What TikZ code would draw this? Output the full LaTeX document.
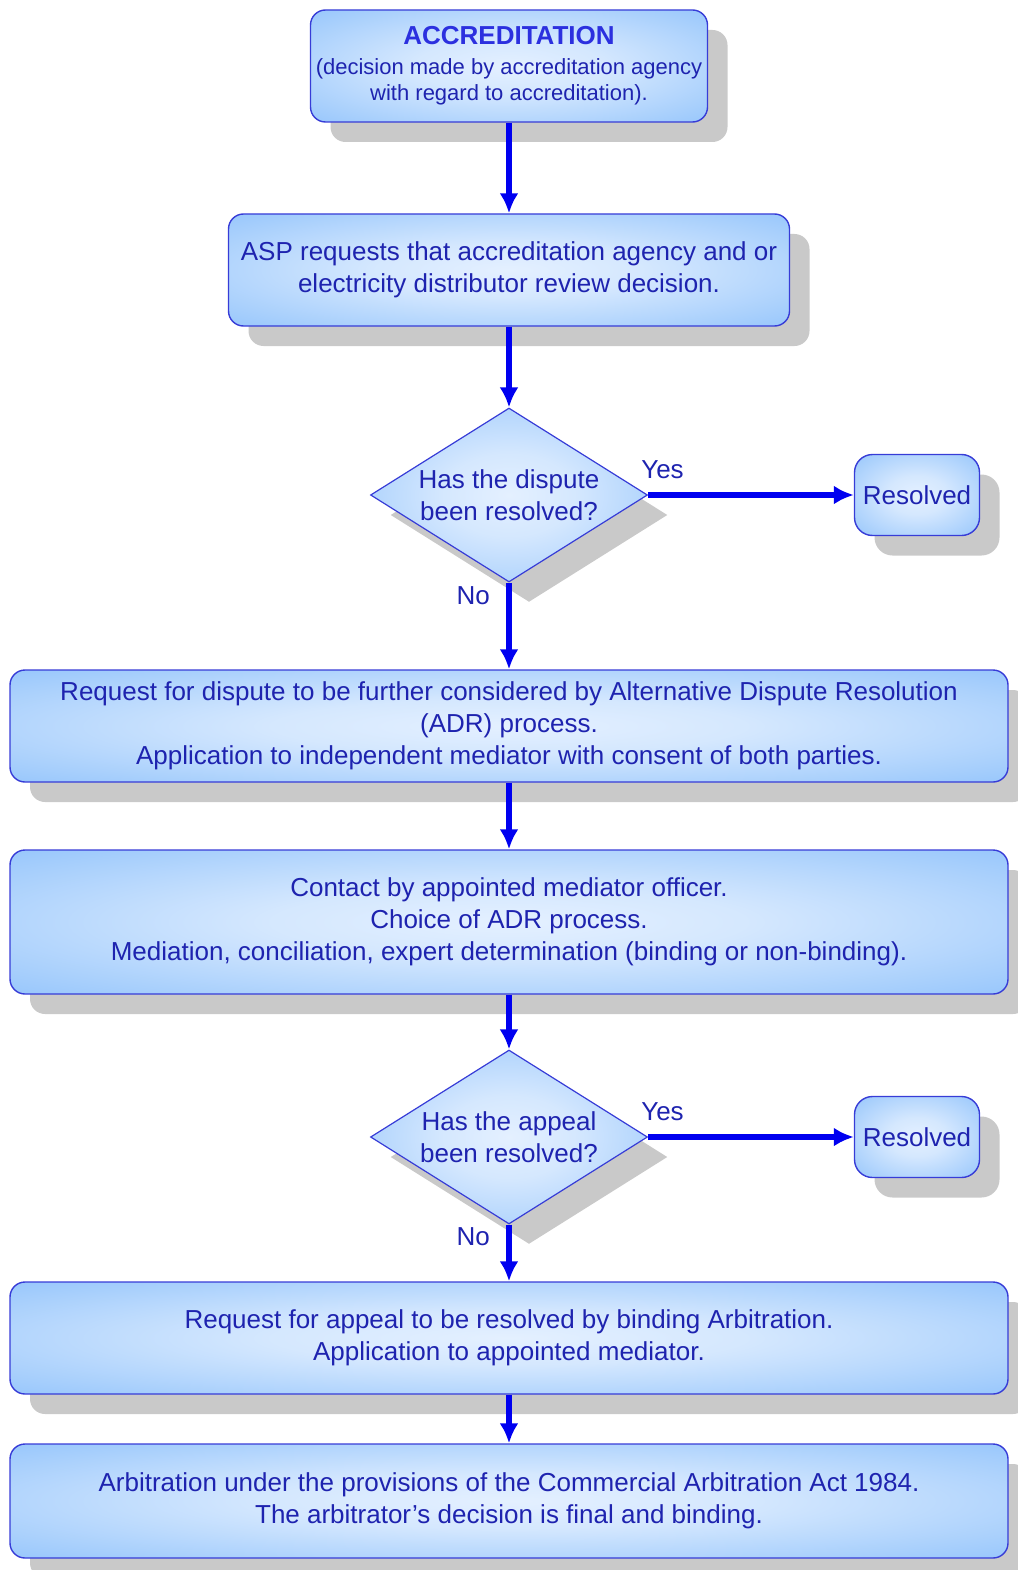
\documentclass[tikz,border=0pt]{standalone}
\usepackage{fontspec}
\setmainfont{Liberation Sans}
\usetikzlibrary{shapes,arrows.meta,positioning,calc,shadows}
\definecolor{boxline}{RGB}{55,60,215}
\definecolor{boxtext}{RGB}{30,35,175}
\definecolor{boxin}{RGB}{228,240,255}
\definecolor{boxout}{RGB}{125,184,250}
\definecolor{flow}{RGB}{0,0,240}
\pgfdeclareradialshading{glow}{\pgfpointorigin}{color(0bp)=(boxin); color(12bp)=(boxin!85!boxout); color(46bp)=(boxout); color(70bp)=(boxout)}
\tikzset{
block/.style = {draw=boxline, line width=1.4pt, shading=glow, rounded corners=15pt, text=boxtext, align=center, font=\fontsize{26}{32}\selectfont, minimum width=998pt, minimum height=112pt, inner sep=0pt, drop shadow={shadow xshift=20pt, shadow yshift=-20pt, fill=black!21, opacity=1}},
decision/.style = {draw=boxline, line width=1.2pt, shading=glow, diamond, aspect=1.59, inner sep=0pt, text=boxtext, align=center, font=\fontsize{26}{32}\selectfont, minimum width=277pt, minimum height=174pt, drop shadow={shadow xshift=20pt, shadow yshift=-20pt, fill=black!21, opacity=1}},
endblock/.style = {block, rounded corners=18pt, minimum width=125pt, minimum height=81pt},
flowline/.style = {->, draw=flow, line width=5.8pt},
answer/.style = {text=boxtext, font=\fontsize{26}{32}\selectfont}
}
\begin{document}
\begin{tikzpicture}[x=1pt, y=-1pt, node distance=200pt, >={Latex[length=20pt,width=19pt]}]
					\useasboundingbox (0,0) rectangle (1017,1570);
					\node[block, minimum width=397pt, font=\fontsize{22}{26}\selectfont] (accr) at (509,66) {{\fontsize{26}{30}\selectfont\bfseries\color{boxline!80!blue} ACCREDITATION}\\[4pt](decision made by accreditation agency\\with regard to accreditation).};
					\node[block, below of=accr, node distance=204pt, minimum width=561pt] (review) {ASP requests that accreditation agency and or\\electricity distributor review decision.};
					\node[decision, below of=review, node distance=225pt] (dispute) {Has the dispute\\been resolved?};
					\node[endblock, right of=dispute, node distance=408pt] (res1) {Resolved};
					\node[block, below of=dispute, node distance=231pt] (adr) {Request for dispute to be further considered by Alternative Dispute Resolution\\(ADR) process.\\Application to independent mediator with consent of both parties.};
					\node[block, below of=adr, node distance=196pt, minimum height=144pt] (mediator) {Contact by appointed mediator officer.\\Choice of ADR process.\\Mediation, conciliation, expert determination (binding or non-binding).};
					\node[decision, below of=mediator, node distance=215pt] (appeal) {Has the appeal\\been resolved?};
					\node[endblock, right of=appeal, node distance=408pt] (res2) {Resolved};
					\node[block, below of=appeal, node distance=201pt] (arbreq) {Request for appeal to be resolved by binding Arbitration.\\Application to appointed mediator.};
					\node[block, below of=arbreq, node distance=163pt, minimum height=114pt] (arbact) {Arbitration under the provisions of the Commercial Arbitration Act 1984.\\The arbitrator's decision is final and binding.};
					\draw[flowline] (accr) -- (review);
					\draw[flowline] (review) -- (dispute);
					\draw[flowline] (dispute) -- node[answer, pos=0.07, above=10pt] {Yes} (res1);
					\draw[flowline] (dispute) -- node[answer, pos=0.15, left=13pt] {No} (adr);
					\draw[flowline] (adr) -- (mediator);
					\draw[flowline] (mediator) -- (appeal);
					\draw[flowline] (appeal) -- node[answer, pos=0.07, above=10pt] {Yes} (res2);
					\draw[flowline] (appeal) -- node[answer, pos=0.22, left=13pt] {No} (arbreq);
					\draw[flowline] (arbreq) -- (arbact);
				\end{tikzpicture}
\end{document}
